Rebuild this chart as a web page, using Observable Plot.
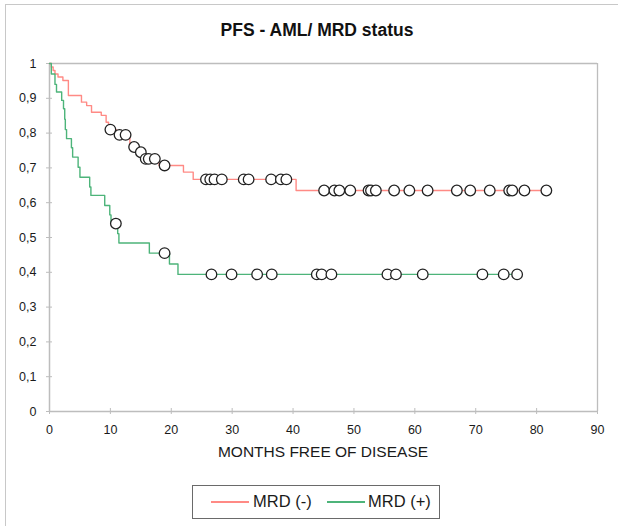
<!DOCTYPE html>
<html>
<head>
<meta charset="utf-8">
<script src="https://cdn.jsdelivr.net/npm/d3@7"></script>
<script src="https://cdn.jsdelivr.net/npm/@observablehq/plot@0.6"></script>
<style>
  html, body { margin: 0; padding: 0; background: #fff; }
  body { width: 618px; height: 526px; position: relative; overflow: hidden; font-family: "Liberation Sans", Arial, sans-serif; color: #1a1a1a; }
  #frame { position: absolute; left: 5px; top: 4px; width: 640px; height: 600px; border-left: 1px solid #c8c8c8; border-top: 1px solid #c8c8c8; }
  #title { position: absolute; left: 0; top: 20px; width: 634px; text-align: center; font-weight: bold; font-size: 17.5px; line-height: 20px; color: #111; }
  #chart { position: absolute; left: 0; top: 0; }
  #xlabel { position: absolute; left: 0; top: 443px; width: 646px; text-align: center; font-size: 15.5px; line-height: 18px; color: #1a1a1a; }
  #legend { position: absolute; left: 192px; top: 485px; width: 248px; height: 34px; border: 1.5px solid #6a6a6a; box-sizing: border-box; }
  .item { position: absolute; top: 0; height: 31px; line-height: 31px; font-size: 16.5px; color: #1a1a1a; }
  .sw { position: absolute; top: 15px; height: 2px; }
</style>
</head>
<body>
<div id="frame"></div>
<div id="title">PFS - AML/ MRD status</div>
<div id="chart"></div>
<div id="xlabel">MONTHS FREE OF DISEASE</div>
<div id="legend"></div>
<script>
// ---- data ----
const seriesNames = ["MRD (-)", "MRD (+)"];
const seriesColors = ["#ff8a85", "#4db47a"];

// MRD (-): step times and survival after each step
const redTimes = [0, 0.3, 0.6, 0.9, 1.4, 2.2, 3.1, 5.25, 6.1, 6.9, 8.5, 9.3, 9.7, 11.0, 13.2, 14.5, 15.5, 18.0, 22.0, 23.6, 40.5, 81.6];
const redSurv  = [1, 0.99, 0.98, 0.97, 0.961, 0.951, 0.908, 0.889, 0.879, 0.860, 0.851, 0.831, 0.810, 0.795, 0.760, 0.745, 0.726, 0.707, 0.688, 0.667, 0.635, 0.635];
const redCensored = [10.0, 11.5, 12.5, 13.9, 15.0, 15.8, 16.3, 17.3, 18.9,
  25.7, 26.4, 27.1, 28.3, 31.9, 32.7, 36.4, 38.0, 38.9,
  45.1, 46.8, 47.6, 49.4, 52.4, 52.8, 53.6, 56.6, 59.1, 62.1, 66.9, 69.1, 72.3, 75.5, 76.0, 78.0, 81.6];

// MRD (+)
const greenTimes = [0, 0.3, 0.9, 1.15, 2.0, 2.3, 2.5, 2.6, 2.8, 3.6, 3.8, 4.7, 5.0, 6.6, 6.8, 9.07, 9.9, 10.1, 11.2, 11.4, 16.4, 19.7, 21.1, 76.8];
const greenSurv  = [1, 0.97, 0.94, 0.918, 0.894, 0.87, 0.84, 0.81, 0.784, 0.758, 0.731, 0.702, 0.673, 0.645, 0.621, 0.592, 0.565, 0.540, 0.511, 0.484, 0.455, 0.424, 0.394, 0.394];
const greenCensored = [10.9, 18.9, 26.6, 29.9, 34.1, 36.5, 43.9, 44.7, 46.3, 55.5, 56.9, 61.3, 71.1, 74.6, 76.8];

const xTicks = [0, 10, 20, 30, 40, 50, 60, 70, 80, 90];
const yTicks = [0, 0.1, 0.2, 0.3, 0.4, 0.5, 0.6, 0.7, 0.8, 0.9, 1];

// ---- build tables ----
function stepValue(T, S, t) {
  let v = S[0];
  for (let i = 0; i < T.length; i++) if (T[i] <= t) v = S[i];
  return v;
}
const curves = [
  ...redTimes.map((t, i) => ({t, s: redSurv[i], g: seriesNames[0]})),
  ...greenTimes.map((t, i) => ({t, s: greenSurv[i], g: seriesNames[1]}))
];
const censored = [
  ...redCensored.map(t => ({t, s: stepValue(redTimes, redSurv, t), g: seriesNames[0]})),
  ...greenCensored.map(t => ({t, s: stepValue(greenTimes, greenSurv, t), g: seriesNames[1]}))
];

const gray = "#bdbdbd";
const fmt = d => (d === 0 || d === 1) ? String(d) : d.toFixed(1).replace(".", ",");

const chart = Plot.plot({
  width: 618,
  height: 441,
  marginLeft: 49,
  marginRight: 21,
  marginTop: 63,
  marginBottom: 30,
  style: {fontFamily: "'Liberation Sans', Arial, sans-serif", fontSize: "12.5px", color: "#1a1a1a", background: "transparent"},
  x: {domain: [0, 90], ticks: xTicks},
  y: {domain: [0, 1], ticks: yTicks},
  color: {domain: seriesNames, range: seriesColors},
  marks: [
    Plot.ruleY([1], {stroke: gray, strokeWidth: 1.3}),
    Plot.ruleX([90], {stroke: gray, strokeWidth: 1.3}),
    Plot.ruleX([0], {stroke: gray, strokeWidth: 1.5}),
    Plot.ruleY([0], {stroke: gray, strokeWidth: 1.5}),
    Plot.axisX(xTicks, {tickSize: 6, dy: -3, tickPadding: 11, label: null, stroke: gray, fill: "#1a1a1a", tickFormat: d => String(d)}),
    Plot.axisY(yTicks, {tickSize: 6, dx: 3, tickPadding: 10, label: null, stroke: gray, fill: "#1a1a1a", tickFormat: fmt}),
    Plot.line(curves, {x: "t", y: "s", z: "g", stroke: "g", curve: "step-after", strokeWidth: 1.4}),
    Plot.dot(censored, {x: "t", y: "s", r: 5.3, fill: "white", stroke: "#222", strokeWidth: 1.3})
  ]
});
document.getElementById("chart").appendChild(chart);

// legend
const legend = document.getElementById("legend");
const legendPos = [{line: 18, text: 60}, {line: 134, text: 175}];
seriesNames.forEach((name, i) => {
  const sw = document.createElement("div");
  sw.className = "sw";
  sw.style.left = legendPos[i].line + "px";
  sw.style.width = "38px";
  sw.style.background = seriesColors[i];
  legend.appendChild(sw);
  const tx = document.createElement("div");
  tx.className = "item";
  tx.style.left = legendPos[i].text + "px";
  tx.textContent = name;
  legend.appendChild(tx);
});
</script>
</body>
</html>
